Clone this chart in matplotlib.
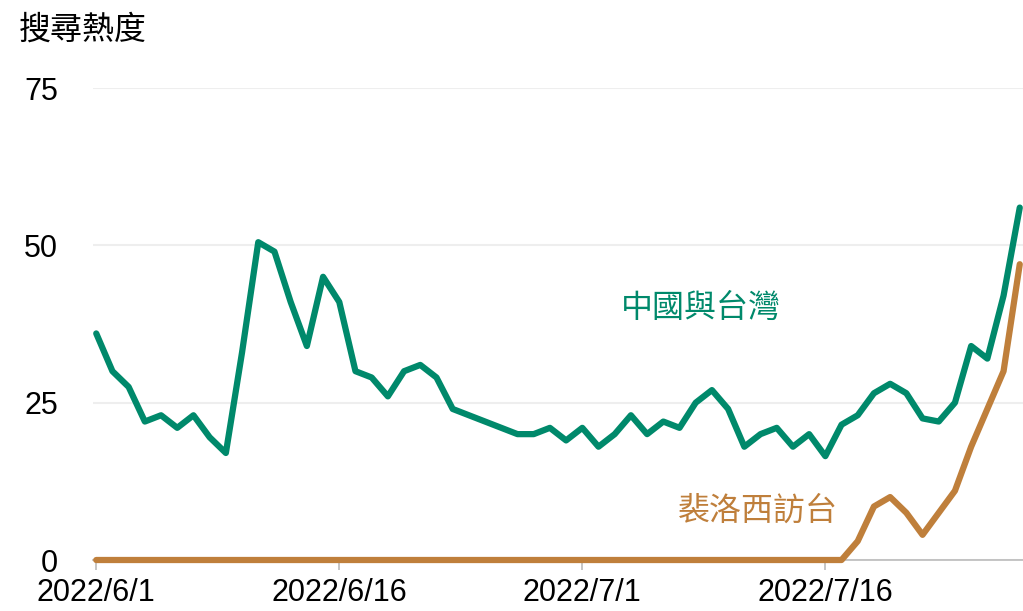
import matplotlib
matplotlib.use("Agg")
import matplotlib.pyplot as plt

plt.rcParams['font.family'] = ['Liberation Sans', 'Noto Sans CJK TC', 'DejaVu Sans']

# daily search interest, 2022/6/1 .. 2022/7/28 (day index 0..57)
days = list(range(58))
china_taiwan = [36, 30, 27.5, 22, 23, 21, 23, 19.5, 17, 33,
                50.5, 49, 41, 34, 45, 41, 30, 29, 26, 30,
                31, 29, 24, 23, 22, 21, 20, 20, 21, 19,
                21, 18, 20, 23, 20, 22, 21, 25, 27, 24,
                18, 20, 21, 18, 20, 16.5, 21.5, 23, 26.5, 28,
                26.5, 22.5, 22, 25, 34, 32, 42, 56]
pelosi_visit = [0] * 47 + [3, 8.5, 10, 7.5, 4, 7.5, 11, 18, 24, 30, 47]

tick_days = [0, 15, 30, 45]
tick_labels = ['2022/6/1', '2022/6/16', '2022/7/1', '2022/7/16']
y_ticks = [0, 25, 50, 75]

green = '#00896b'
orange = '#bf7f3b'

fig = plt.figure(figsize=(10.23, 6.11), dpi=100)
ax = fig.add_axes([93 / 1023, 51 / 611, 1 - 93 / 1023, (560 - 88) / 611])

ax.plot(days, china_taiwan, color=green, lw=4.5, solid_capstyle='round',
        solid_joinstyle='round', clip_on=False, zorder=3)
ax.plot(days, pelosi_visit, color=orange, lw=4.5, solid_capstyle='round',
        solid_joinstyle='round', clip_on=False, zorder=3)

ax.set_xlim(-0.2, 57.2)
ax.set_ylim(0, 75)

ax.set_yticks(y_ticks)
ax.set_yticklabels([str(v) for v in y_ticks])
ax.set_xticks(tick_days)
ax.set_xticklabels(tick_labels)

ax.grid(axis='y', color='#eeeeee', lw=1.5)
ax.set_axisbelow(True)
for s in ['top', 'right', 'left']:
    ax.spines[s].set_visible(False)
ax.spines['bottom'].set_color('#bbbbbb')
ax.spines['bottom'].set_linewidth(1.2)

ax.tick_params(axis='y', length=0, pad=25, labelsize=22)
ax.tick_params(axis='x', length=7, width=1.2, color='#bbbbbb', pad=6, labelsize=22)

ax.text(0.654, 0.532, '中國與台灣', transform=ax.transAxes, color=green,
        fontsize=23, ha='center', va='center')
ax.text(0.715, 0.102, '裴洛西訪台', transform=ax.transAxes, color=orange,
        fontsize=23, ha='center', va='center')

fig.text(19 / 1023, 1 - 30 / 611, '搜尋熱度', fontsize=23, ha='left', va='center')

fig.savefig('out.png', dpi=100)
